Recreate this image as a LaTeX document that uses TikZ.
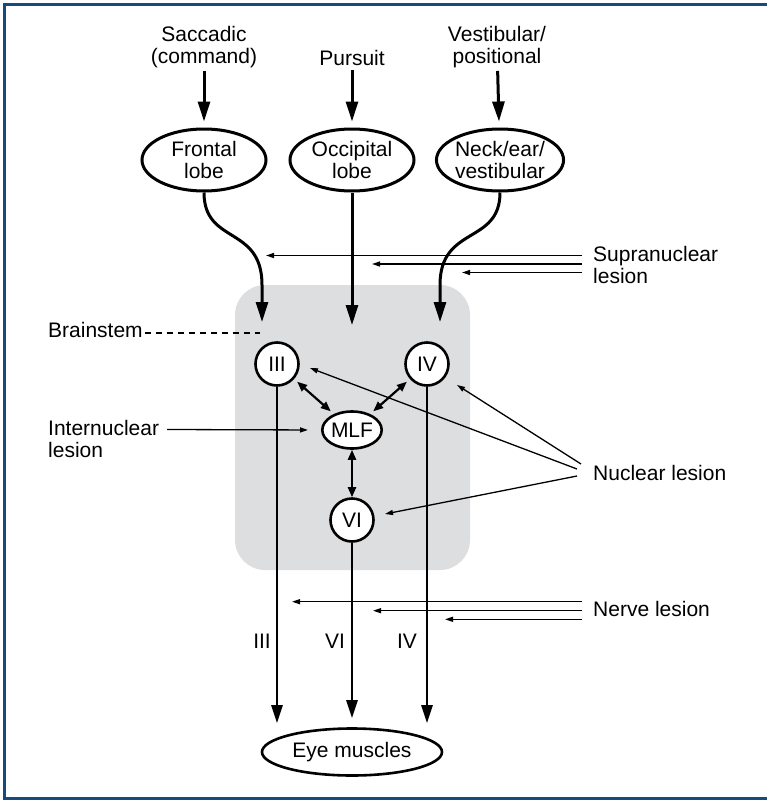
\documentclass[tikz,border=0pt]{standalone}
\usepackage{fontspec}
\setmainfont{Liberation Sans}
\usetikzlibrary{arrows.meta,shapes.geometric}
\definecolor{frameblue}{RGB}{24,74,124}
\definecolor{stemgray}{RGB}{221,222,224}

\begin{document}
\begin{tikzpicture}[
    x=1pt, y=-1pt,
    every node/.style={font=\fontsize{21}{22}\selectfont},
    inputtxt/.style={align=center, inner sep=0pt},
    txt/.style={inner sep=0pt},
    lobe/.style={ellipse, draw, line width=3pt, minimum width=124pt, minimum height=62pt, inner sep=0pt, align=center},
    nucleus/.style={circle, draw, fill=white, line width=2.6pt, minimum size=43pt, inner sep=0pt},
    lesion/.style={align=left, inner sep=0pt, inner xsep=11pt, anchor=west},
    bigarrow/.style={-{Triangle[length=20pt,width=12pt]}, line width=3pt},
    nervearrow/.style={-{Triangle[length=18pt,width=11pt]}, line width=2.6pt},
    linkarrow/.style={{Triangle[length=10pt,width=8pt]}-{Triangle[length=10pt,width=8pt]}, line width=2.2pt},
    thinarrow/.style={-{Triangle[length=8pt,width=5pt]}, line width=1.3pt}
]
    \useasboundingbox (0,0) rectangle (767,800);

    % Frame
    \draw[frameblue, line width=3.4pt] (767,4.5) -- (4.3,4.5) -- (4.3,798.3) -- (767,798.3);

    % Brainstem region
    \fill[stemgray, rounded corners=30pt] (235,285) rectangle (470,570);

    % Inputs
    \node[inputtxt] (sacc) at (204,47) {Saccadic\\(command)};
    \node[inputtxt] (purs) at (352,58) {Pursuit};
    \node[inputtxt] (vest) at (497,47) {Vestibular/\\positional};

    % Sources
    \node[lobe] (frontal) at (204,160) {Frontal\\lobe};
    \node[lobe] (occip) at (352,160) {Occipital\\lobe};
    \node[lobe] (neck) at (500,160) {Neck/ear/\\vestibular};

    % Nuclei
    \node[nucleus] (III) at (277,364) {III};
    \node[nucleus] (IV) at (427,364) {IV};
    \node[nucleus] (VI) at (352,520) {VI};
    \node[ellipse, draw, fill=white, line width=2.6pt, minimum width=59pt, minimum height=37pt, inner sep=0pt] (MLF) at (352,430) {MLF};

    % Eye muscles
    \node[lobe, line width=2.6pt, minimum width=180pt, minimum height=47pt] (muscles) at (352,752) {Eye muscles};

    % Side labels
    \node[txt, anchor=base west] (brain) at (48,337) {Brainstem};
    \node[txt, align=left, anchor=north west] (inter) at (48,419.7) {Internuclear\\lesion};
    \node[lesion] (supra) at (582,265) {Supranuclear\\lesion};
    \node[lesion, anchor=base west] (nuclear) at (582,480) {Nuclear lesion};
    \node[lesion, anchor=base west] (nerve) at (582,616) {Nerve lesion};

    % Nerve labels
    \node[txt] (l3) at (262,641) {III};
    \node[txt] (l6) at (335,641) {VI};
    \node[txt] (l4) at (407,641) {IV};

    % Free ends
    \coordinate (bend3) at (262,285);
    \coordinate (bend4) at (440,285);
    \coordinate (in3) at (262,322);
    \coordinate (in6) at (352,325);
    \coordinate (in4) at (440,322);
    \coordinate (b1) at (260,333);
    \coordinate (i0) at (167,429.5);
    \coordinate (s1) at (266,255.5);
    \coordinate (s2) at (372,264);
    \coordinate (s3) at (462,272.5);
    \coordinate (o4) at (581,464);
    \coordinate (o3) at (577,469);
    \coordinate (o6) at (577,476);
    \coordinate (t4) at (457,385);
    \coordinate (t3) at (310,368);
    \coordinate (t6) at (385,514);
    \coordinate (r1) at (292,601.7);
    \coordinate (r2) at (373,610.7);
    \coordinate (r3) at (445,619.3);

    % Input arrows
    \draw[bigarrow, shorten <=3pt, shorten >=6pt] (sacc) -- (frontal);
    \draw[bigarrow, shorten <=4pt, shorten >=6pt] (purs) -- (occip);
    \draw[bigarrow, shorten <=3pt, shorten >=6pt] (vest) -- (neck);

    % Descending paths
    \draw[bigarrow] (frontal.south) .. controls (204,245) and (262,225) .. (bend3) -- (in3);
    \draw[bigarrow] (occip) -- (in6);
    \draw[bigarrow] (neck.south) .. controls (500,245) and (440,225) .. (bend4) -- (in4);

    % Links through MLF
    \draw[linkarrow, shorten <=4pt, shorten >=4pt] (III) -- (MLF);
    \draw[linkarrow, shorten <=4pt, shorten >=4pt] (IV) -- (MLF);
    \draw[linkarrow] (MLF) -- (VI);

    % Nerves
    \draw[nervearrow, shorten >=4pt] (III) -- (III |- muscles.north);
    \draw[nervearrow, shorten >=9pt] (VI) -- (muscles);
    \draw[nervearrow, shorten >=4pt] (IV) -- (IV |- muscles.north);

    % Lesion arrows
    \draw[line width=1.3pt, dash pattern=on 6pt off 5pt, shorten <=2pt] (b1 -| brain.east) -- (b1);
    \draw[thinarrow, shorten >=13pt] (i0) -- (MLF.west);
    \draw[thinarrow] (supra.west |- s1) -- (s1);
    \draw[thinarrow] (supra.west |- s2) -- (s2);
    \draw[thinarrow] (supra.west |- s3) -- (s3);
    \draw[thinarrow] (o4) -- (t4);
    \draw[thinarrow] (o3) -- (t3);
    \draw[thinarrow] (o6) -- (t6);
    \draw[thinarrow] (nerve.west |- r1) -- (r1);
    \draw[thinarrow] (nerve.west |- r2) -- (r2);
    \draw[thinarrow] (nerve.west |- r3) -- (r3);

\end{tikzpicture}
\end{document}
